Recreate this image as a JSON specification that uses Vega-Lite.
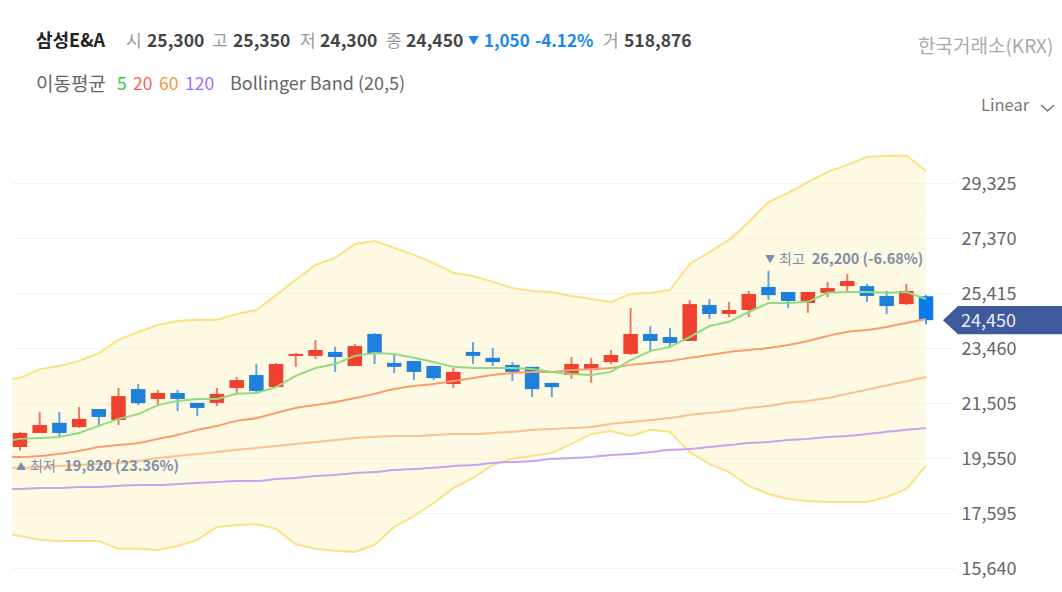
{
  "$schema": "https://vega.github.io/schema/vega-lite/v6.json",
  "width": 943,
  "height": 592,
  "padding": {"left": 12, "top": 0, "right": 107, "bottom": 0},
  "autosize": "none",
  "background": "white",
  "config": {
    "view": {"stroke": null},
    "axisX": {"disable": true},
    "text": {"font": "Noto Sans CJK KR", "fontSize": 16, "align": "left", "baseline": "middle"}
  },
  "datasets": {
    "note": [{}],
    "prices": [
      {"i": -0.4, "ma5": 20190, "ma20": 19590, "ma60": 19200, "ma120": 18450, "upper": 22360, "lower": 16810},
      {"i": 0, "open": 19940, "high": 20480, "low": 19820, "close": 20440, "ma5": 20230, "ma20": 19590, "ma60": 19200, "ma120": 18450, "upper": 22390, "lower": 16780},
      {"i": 1, "open": 20440, "high": 21190, "low": 20440, "close": 20720, "ma5": 20260, "ma20": 19620, "ma60": 19230, "ma120": 18480, "upper": 22710, "lower": 16640},
      {"i": 2, "open": 20800, "high": 21190, "low": 20330, "close": 20440, "ma5": 20300, "ma20": 19700, "ma60": 19270, "ma120": 18480, "upper": 22820, "lower": 16600},
      {"i": 3, "open": 20650, "high": 21360, "low": 20620, "close": 20940, "ma5": 20440, "ma20": 19800, "ma60": 19300, "ma120": 18520, "upper": 23000, "lower": 16600},
      {"i": 4, "open": 21290, "high": 21290, "low": 20690, "close": 21010, "ma5": 20690, "ma20": 19940, "ma60": 19340, "ma120": 18520, "upper": 23280, "lower": 16600},
      {"i": 5, "open": 20900, "high": 22040, "low": 20720, "close": 21750, "ma5": 20940, "ma20": 20010, "ma60": 19370, "ma120": 18560, "upper": 23750, "lower": 16320},
      {"i": 6, "open": 22000, "high": 22180, "low": 21430, "close": 21500, "ma5": 21110, "ma20": 20080, "ma60": 19440, "ma120": 18590, "upper": 24030, "lower": 16320},
      {"i": 7, "open": 21650, "high": 21970, "low": 21430, "close": 21860, "ma5": 21430, "ma20": 20230, "ma60": 19550, "ma120": 18590, "upper": 24280, "lower": 16280},
      {"i": 8, "open": 21860, "high": 21970, "low": 21220, "close": 21650, "ma5": 21580, "ma20": 20370, "ma60": 19620, "ma120": 18630, "upper": 24420, "lower": 16420},
      {"i": 9, "open": 21510, "high": 21510, "low": 21040, "close": 21330, "ma5": 21650, "ma20": 20550, "ma60": 19690, "ma120": 18660, "upper": 24460, "lower": 16640},
      {"i": 10, "open": 21510, "high": 22040, "low": 21400, "close": 21830, "ma5": 21650, "ma20": 20690, "ma60": 19760, "ma120": 18700, "upper": 24460, "lower": 17100},
      {"i": 11, "open": 22040, "high": 22430, "low": 21830, "close": 22320, "ma5": 21830, "ma20": 20870, "ma60": 19840, "ma120": 18730, "upper": 24670, "lower": 17170},
      {"i": 12, "open": 22500, "high": 22890, "low": 21860, "close": 21930, "ma5": 21860, "ma20": 20970, "ma60": 19910, "ma120": 18730, "upper": 24810, "lower": 17200},
      {"i": 13, "open": 22070, "high": 22930, "low": 22040, "close": 22890, "ma5": 22070, "ma20": 21150, "ma60": 19980, "ma120": 18800, "upper": 25340, "lower": 17030},
      {"i": 14, "open": 23180, "high": 23280, "low": 22790, "close": 23250, "ma5": 22470, "ma20": 21330, "ma60": 20050, "ma120": 18840, "upper": 25880, "lower": 16490},
      {"i": 15, "open": 23180, "high": 23750, "low": 23070, "close": 23390, "ma5": 22750, "ma20": 21430, "ma60": 20120, "ma120": 18910, "upper": 26410, "lower": 16320},
      {"i": 16, "open": 23320, "high": 23500, "low": 22610, "close": 23140, "ma5": 22890, "ma20": 21540, "ma60": 20190, "ma120": 18950, "upper": 26660, "lower": 16250},
      {"i": 17, "open": 22820, "high": 23600, "low": 22820, "close": 23530, "ma5": 23180, "ma20": 21680, "ma60": 20260, "ma120": 19020, "upper": 27160, "lower": 16210},
      {"i": 18, "open": 23960, "high": 23990, "low": 22890, "close": 23250, "ma5": 23280, "ma20": 21830, "ma60": 20300, "ma120": 19050, "upper": 27260, "lower": 16460},
      {"i": 19, "open": 22930, "high": 23210, "low": 22570, "close": 22790, "ma5": 23250, "ma20": 22000, "ma60": 20330, "ma120": 19120, "upper": 27020, "lower": 17100},
      {"i": 20, "open": 23000, "high": 23000, "low": 22320, "close": 22610, "ma5": 23110, "ma20": 22110, "ma60": 20330, "ma120": 19160, "upper": 26770, "lower": 17490},
      {"i": 21, "open": 22820, "high": 22820, "low": 22320, "close": 22390, "ma5": 22960, "ma20": 22180, "ma60": 20370, "ma120": 19200, "upper": 26480, "lower": 17950},
      {"i": 22, "open": 22180, "high": 22750, "low": 22040, "close": 22610, "ma5": 22790, "ma20": 22290, "ma60": 20400, "ma120": 19270, "upper": 26130, "lower": 18480},
      {"i": 23, "open": 23320, "high": 23670, "low": 22890, "close": 23180, "ma5": 22750, "ma20": 22390, "ma60": 20400, "ma120": 19300, "upper": 26020, "lower": 18840},
      {"i": 24, "open": 23110, "high": 23460, "low": 22820, "close": 22960, "ma5": 22750, "ma20": 22500, "ma60": 20440, "ma120": 19370, "upper": 25810, "lower": 19300},
      {"i": 25, "open": 22860, "high": 22960, "low": 22290, "close": 22610, "ma5": 22750, "ma20": 22570, "ma60": 20480, "ma120": 19410, "upper": 25590, "lower": 19520},
      {"i": 26, "open": 22790, "high": 22790, "low": 21720, "close": 22000, "ma5": 22710, "ma20": 22610, "ma60": 20550, "ma120": 19440, "upper": 25490, "lower": 19620},
      {"i": 27, "open": 22220, "high": 22220, "low": 21720, "close": 22070, "ma5": 22610, "ma20": 22610, "ma60": 20580, "ma120": 19520, "upper": 25450, "lower": 19730},
      {"i": 28, "open": 22500, "high": 23140, "low": 22360, "close": 22890, "ma5": 22540, "ma20": 22680, "ma60": 20620, "ma120": 19550, "upper": 25310, "lower": 20050},
      {"i": 29, "open": 22680, "high": 23110, "low": 22220, "close": 22890, "ma5": 22500, "ma20": 22710, "ma60": 20650, "ma120": 19590, "upper": 25200, "lower": 20400},
      {"i": 30, "open": 22960, "high": 23390, "low": 22890, "close": 23210, "ma5": 22610, "ma20": 22750, "ma60": 20760, "ma120": 19660, "upper": 25100, "lower": 20510},
      {"i": 31, "open": 23250, "high": 24880, "low": 23210, "close": 23960, "ma5": 23030, "ma20": 22860, "ma60": 20830, "ma120": 19690, "upper": 25380, "lower": 20330},
      {"i": 32, "open": 23960, "high": 24240, "low": 23320, "close": 23710, "ma5": 23350, "ma20": 22930, "ma60": 20900, "ma120": 19760, "upper": 25420, "lower": 20550},
      {"i": 33, "open": 23850, "high": 24170, "low": 23500, "close": 23640, "ma5": 23500, "ma20": 23000, "ma60": 20970, "ma120": 19840, "upper": 25520, "lower": 20480},
      {"i": 34, "open": 23710, "high": 25170, "low": 23710, "close": 25020, "ma5": 23850, "ma20": 23110, "ma60": 21080, "ma120": 19870, "upper": 26450, "lower": 19760},
      {"i": 35, "open": 24990, "high": 25200, "low": 24490, "close": 24670, "ma5": 24240, "ma20": 23210, "ma60": 21150, "ma120": 19940, "upper": 26870, "lower": 19340},
      {"i": 36, "open": 24670, "high": 25100, "low": 24560, "close": 24810, "ma5": 24390, "ma20": 23320, "ma60": 21220, "ma120": 20010, "upper": 27300, "lower": 19050},
      {"i": 37, "open": 24810, "high": 25490, "low": 24560, "close": 25380, "ma5": 24740, "ma20": 23390, "ma60": 21330, "ma120": 20080, "upper": 27940, "lower": 18560},
      {"i": 38, "open": 25630, "high": 26200, "low": 25170, "close": 25340, "ma5": 25060, "ma20": 23460, "ma60": 21400, "ma120": 20120, "upper": 28650, "lower": 18270},
      {"i": 39, "open": 25450, "high": 25450, "low": 24880, "close": 25130, "ma5": 25060, "ma20": 23570, "ma60": 21510, "ma120": 20190, "upper": 28970, "lower": 18090},
      {"i": 40, "open": 25060, "high": 25450, "low": 24710, "close": 25450, "ma5": 25100, "ma20": 23710, "ma60": 21580, "ma120": 20230, "upper": 29360, "lower": 18020},
      {"i": 41, "open": 25420, "high": 25810, "low": 25270, "close": 25590, "ma5": 25420, "ma20": 23890, "ma60": 21680, "ma120": 20300, "upper": 29720, "lower": 17990},
      {"i": 42, "open": 25660, "high": 26090, "low": 25420, "close": 25840, "ma5": 25450, "ma20": 24030, "ma60": 21830, "ma120": 20330, "upper": 29970, "lower": 17990},
      {"i": 43, "open": 25660, "high": 25740, "low": 25100, "close": 25310, "ma5": 25450, "ma20": 24100, "ma60": 21980, "ma120": 20400, "upper": 30250, "lower": 17990},
      {"i": 44, "open": 25310, "high": 25490, "low": 24670, "close": 24950, "ma5": 25420, "ma20": 24210, "ma60": 22130, "ma120": 20480, "upper": 30290, "lower": 18160},
      {"i": 45, "open": 25020, "high": 25740, "low": 24990, "close": 25490, "ma5": 25450, "ma20": 24350, "ma60": 22280, "ma120": 20550, "upper": 30300, "lower": 18450},
      {"i": 46, "open": 25300, "high": 25350, "low": 24300, "close": 24450, "ma5": 25200, "ma20": 24490, "ma60": 22430, "ma120": 20620, "upper": 29750, "lower": 19270}
    ],
    "tag": [
      {"i": 46.86, "top": 24450, "bottom": 24450},
      {"i": 47.62, "top": 24950, "bottom": 23950},
      {"i": 52.92, "top": 24950, "bottom": 23950}
    ],
    "chevron": [
      {"i": 51.84, "price": 32100},
      {"i": 52.17, "price": 31885},
      {"i": 52.5, "price": 32100}
    ]
  },
  "data": {"name": "prices"},
  "layer": [
    {
      "mark": {"type": "area", "color": "#fdeeb5", "opacity": 0.38},
      "encoding": {
        "x": {"field": "i", "type": "quantitative", "scale": {"domain": [-0.406, 47.47], "nice": false, "zero": false, "padding": 0}},
        "y": {
          "field": "upper",
          "type": "quantitative",
          "title": null,
          "scale": {"domain": [14787, 35830], "nice": false, "zero": false},
          "axis": {
            "orient": "right",
            "values": [15640, 17595, 19550, 21505, 23460, 25415, 27370, 29325],
            "format": ",d",
            "domain": false,
            "ticks": false,
            "grid": true,
            "gridColor": "#eff2f6",
            "gridWidth": 1,
            "labelFont": "Noto Sans CJK KR",
            "labelFontSize": 18,
            "labelColor": "#666666",
            "labelPadding": 6,
            "labelOffset": 1,
            "labelBound": false,
            "labelFlush": false
          }
        },
        "y2": {"field": "lower"}
      }
    },
    {
      "mark": {"type": "line", "color": "#fde083", "strokeWidth": 2},
      "encoding": {"x": {"field": "i", "type": "quantitative"}, "y": {"field": "upper", "type": "quantitative"}}
    },
    {
      "mark": {"type": "line", "color": "#fde083", "strokeWidth": 2},
      "encoding": {"x": {"field": "i", "type": "quantitative"}, "y": {"field": "lower", "type": "quantitative"}}
    },
    {
      "transform": [{"filter": "isValid(datum.open)"}],
      "mark": {"type": "rule", "strokeWidth": 2, "opacity": 0.7},
      "encoding": {
        "x": {"field": "i", "type": "quantitative"},
        "y": {"field": "high", "type": "quantitative"},
        "y2": {"field": "low"},
        "color": {
          "condition": [
            {"test": "datum.i === 46", "value": "#0a7af0"},
            {"test": "datum.close >= datum.open", "value": "#f0402e"}
          ],
          "value": "#1f80dc"
        }
      }
    },
    {
      "transform": [{"filter": "isValid(datum.open)"}],
      "mark": {"type": "bar", "size": 14.5},
      "encoding": {
        "x": {"field": "i", "type": "quantitative"},
        "y": {"field": "open", "type": "quantitative"},
        "y2": {"field": "close"},
        "color": {
          "condition": [
            {"test": "datum.i === 46", "value": "#0a7af0"},
            {"test": "datum.close >= datum.open", "value": "#f0402e"}
          ],
          "value": "#1f80dc"
        }
      }
    },
    {
      "mark": {"type": "line", "color": "#c9a2f0", "strokeWidth": 2, "interpolate": "monotone"},
      "encoding": {"x": {"field": "i", "type": "quantitative"}, "y": {"field": "ma120", "type": "quantitative"}}
    },
    {
      "mark": {"type": "line", "color": "#fcc08c", "strokeWidth": 2, "interpolate": "monotone"},
      "encoding": {"x": {"field": "i", "type": "quantitative"}, "y": {"field": "ma60", "type": "quantitative"}}
    },
    {
      "mark": {"type": "line", "color": "#fb9c6e", "strokeWidth": 2, "interpolate": "monotone"},
      "encoding": {"x": {"field": "i", "type": "quantitative"}, "y": {"field": "ma20", "type": "quantitative"}}
    },
    {
      "mark": {"type": "line", "color": "#8fdc80", "strokeWidth": 2},
      "encoding": {"x": {"field": "i", "type": "quantitative"}, "y": {"field": "ma5", "type": "quantitative"}}
    },
    {
      "data": {"name": "tag"},
      "mark": {"type": "area", "color": "#3f5a9b"},
      "encoding": {
        "x": {"field": "i", "type": "quantitative"},
        "y": {"field": "top", "type": "quantitative"},
        "y2": {"field": "bottom"}
      }
    },
    {
      "data": {"name": "chevron"},
      "mark": {"type": "line", "color": "#777777", "strokeWidth": 1.5},
      "encoding": {"x": {"field": "i", "type": "quantitative"}, "y": {"field": "price", "type": "quantitative"}}
    },
    {"data": {"name": "note"}, "mark": {"type": "text", "text": "24,450", "color": "#e8ecf5", "fontSize": 18}, "encoding": {"x": {"datum": 47.776}, "y": {"datum": 24385}}},
    {"data": {"name": "note"}, "mark": {"type": "text", "text": "▲", "color": "#7f8ea8", "fontSize": 10}, "encoding": {"x": {"datum": -0.2}, "y": {"datum": 19230}}},
    {"data": {"name": "note"}, "mark": {"type": "text", "text": "최저", "color": "#7f8ea8", "fontSize": 14}, "encoding": {"x": {"datum": 0.508}, "y": {"datum": 19230}}},
    {"data": {"name": "note"}, "mark": {"type": "text", "text": "19,820 (23.36%)", "color": "#7f8ea8", "fontSize": 14.5, "fontWeight": "bold"}, "encoding": {"x": {"datum": 2.25}, "y": {"datum": 19230}}},
    {"data": {"name": "note"}, "mark": {"type": "text", "text": "▼", "color": "#7f8ea8", "fontSize": 10}, "encoding": {"x": {"datum": 37.83}, "y": {"datum": 26590}}},
    {"data": {"name": "note"}, "mark": {"type": "text", "text": "최고", "color": "#7f8ea8", "fontSize": 14}, "encoding": {"x": {"datum": 38.54}, "y": {"datum": 26590}}},
    {"data": {"name": "note"}, "mark": {"type": "text", "text": "26,200 (-6.68%)", "color": "#7f8ea8", "fontSize": 14.5, "fontWeight": "bold"}, "encoding": {"x": {"datum": 40.2}, "y": {"datum": 26590}}},
    {"data": {"name": "note"}, "mark": {"type": "text", "text": "삼성E&A", "color": "#222222", "fontWeight": "bold", "fontSize": 18}, "encoding": {"x": {"datum": 0.812}, "y": {"datum": 34335}}},
    {"data": {"name": "note"}, "mark": {"type": "text", "text": "시", "color": "#999999", "fontSize": 17}, "encoding": {"x": {"datum": 5.382}, "y": {"datum": 34335}}},
    {"data": {"name": "note"}, "mark": {"type": "text", "text": "25,300", "color": "#444444", "fontWeight": "bold", "fontSize": 17.5}, "encoding": {"x": {"datum": 6.448}, "y": {"datum": 34335}}},
    {"data": {"name": "note"}, "mark": {"type": "text", "text": "고", "color": "#999999", "fontSize": 17}, "encoding": {"x": {"datum": 9.748}, "y": {"datum": 34335}}},
    {"data": {"name": "note"}, "mark": {"type": "text", "text": "25,350", "color": "#444444", "fontWeight": "bold", "fontSize": 17.5}, "encoding": {"x": {"datum": 10.814}, "y": {"datum": 34335}}},
    {"data": {"name": "note"}, "mark": {"type": "text", "text": "저", "color": "#999999", "fontSize": 17}, "encoding": {"x": {"datum": 14.216}, "y": {"datum": 34335}}},
    {"data": {"name": "note"}, "mark": {"type": "text", "text": "24,300", "color": "#444444", "fontWeight": "bold", "fontSize": 17.5}, "encoding": {"x": {"datum": 15.232}, "y": {"datum": 34335}}},
    {"data": {"name": "note"}, "mark": {"type": "text", "text": "종", "color": "#999999", "fontSize": 17}, "encoding": {"x": {"datum": 18.583}, "y": {"datum": 34335}}},
    {"data": {"name": "note"}, "mark": {"type": "text", "text": "24,450", "color": "#444444", "fontWeight": "bold", "fontSize": 17.5}, "encoding": {"x": {"datum": 19.598}, "y": {"datum": 34335}}},
    {"data": {"name": "note"}, "mark": {"type": "text", "text": "▼", "color": "#1a87f0", "fontSize": 11}, "encoding": {"x": {"datum": 22.746}, "y": {"datum": 34335}}},
    {"data": {"name": "note"}, "mark": {"type": "text", "text": "1,050", "color": "#1a87f0", "fontWeight": "bold", "fontSize": 17}, "encoding": {"x": {"datum": 23.558}, "y": {"datum": 34335}}},
    {"data": {"name": "note"}, "mark": {"type": "text", "text": "-4.12%", "color": "#1a87f0", "fontWeight": "bold", "fontSize": 17}, "encoding": {"x": {"datum": 26.148}, "y": {"datum": 34335}}},
    {"data": {"name": "note"}, "mark": {"type": "text", "text": "거", "color": "#999999", "fontSize": 17}, "encoding": {"x": {"datum": 29.6}, "y": {"datum": 34335}}},
    {"data": {"name": "note"}, "mark": {"type": "text", "text": "518,876", "color": "#444444", "fontWeight": "bold", "fontSize": 17.5}, "encoding": {"x": {"datum": 30.667}, "y": {"datum": 34335}}},
    {"data": {"name": "note"}, "mark": {"type": "text", "text": "한국거래소(KRX)", "color": "#aaaaaa", "fontSize": 19}, "encoding": {"x": {"datum": 45.593}, "y": {"datum": 34160}}},
    {"data": {"name": "note"}, "mark": {"type": "text", "text": "이동평균", "color": "#666666", "fontSize": 19}, "encoding": {"x": {"datum": 0.812}, "y": {"datum": 32810}}},
    {"data": {"name": "note"}, "mark": {"type": "text", "text": "5", "color": "#35cc3f", "fontSize": 17.5}, "encoding": {"x": {"datum": 4.925}, "y": {"datum": 32810}}},
    {"data": {"name": "note"}, "mark": {"type": "text", "text": "20", "color": "#ff5a60", "fontSize": 17.5}, "encoding": {"x": {"datum": 5.737}, "y": {"datum": 32810}}},
    {"data": {"name": "note"}, "mark": {"type": "text", "text": "60", "color": "#f7953b", "fontSize": 17.5}, "encoding": {"x": {"datum": 7.057}, "y": {"datum": 32810}}},
    {"data": {"name": "note"}, "mark": {"type": "text", "text": "120", "color": "#a86bff", "fontSize": 17.5}, "encoding": {"x": {"datum": 8.377}, "y": {"datum": 32810}}},
    {"data": {"name": "note"}, "mark": {"type": "text", "text": "Bollinger Band (20,5)", "color": "#666666", "fontSize": 18}, "encoding": {"x": {"datum": 10.662}, "y": {"datum": 32810}}},
    {"data": {"name": "note"}, "mark": {"type": "text", "text": "Linear", "color": "#777777", "fontSize": 16.5}, "encoding": {"x": {"datum": 48.792}, "y": {"datum": 32065}}}
  ]
}
